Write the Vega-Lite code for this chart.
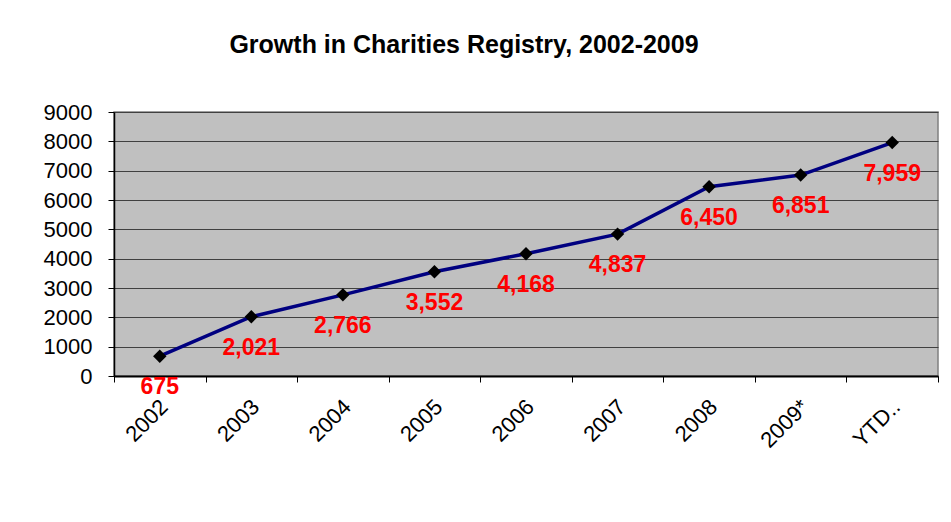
{
  "$schema": "https://vega.github.io/schema/vega-lite/v6.json",
  "autosize": "none",
  "width": 824,
  "height": 264,
  "padding": {"left": 114, "top": 112, "right": 13, "bottom": 146},
  "background": "#ffffff",
  "config": {
    "font": "Liberation Sans",
    "view": {"stroke": "#808080", "strokeWidth": 1.5, "fill": "#C0C0C0"}
  },
  "title": {
    "text": "Growth in Charities Registry, 2002-2009",
    "font": "Liberation Sans",
    "fontSize": 25,
    "fontWeight": "bold",
    "color": "#000000",
    "anchor": "middle",
    "frame": "group",
    "dx": -62,
    "offset": 43
  },
  "data": {
    "values": [
      {"year": "2002", "count": 675},
      {"year": "2003", "count": 2021},
      {"year": "2004", "count": 2766},
      {"year": "2005", "count": 3552},
      {"year": "2006", "count": 4168},
      {"year": "2007", "count": 4837},
      {"year": "2008", "count": 6450},
      {"year": "2009*", "count": 6851},
      {"year": "YTD..", "count": 7959}
    ]
  },
  "encoding": {
    "x": {
      "field": "year",
      "type": "nominal",
      "sort": null,
      "scale": {"paddingInner": 0, "paddingOuter": 0},
      "axis": {
        "title": null,
        "labelAngle": -45,
        "labelAlign": "right",
        "labelBaseline": "middle",
        "labelFontSize": 22,
        "labelColor": "#000000",
        "labelFont": "Liberation Sans",
        "labelPadding": 21,
        "labelOffset": 4,
        "tickBand": "extent",
        "tickSize": 6,
        "tickColor": "#000000",
        "domainColor": "#000000",
        "domainWidth": 2,
        "grid": false
      }
    },
    "y": {
      "field": "count",
      "type": "quantitative",
      "scale": {"domain": [0, 9000], "nice": false},
      "axis": {
        "title": null,
        "values": [0, 1000, 2000, 3000, 4000, 5000, 6000, 7000, 8000, 9000],
        "format": "d",
        "labelFontSize": 22,
        "labelColor": "#000000",
        "labelFont": "Liberation Sans",
        "labelPadding": 16,
        "tickSize": 6,
        "tickColor": "#000000",
        "domainColor": "#000000",
        "domainWidth": 1.5,
        "grid": true,
        "gridColor": "#404040",
        "gridWidth": 1
      }
    }
  },
  "layer": [
    {"mark": {"type": "line", "color": "#000080", "strokeWidth": 3.5}},
    {"mark": {"type": "point", "shape": "diamond", "filled": true, "color": "#000000", "size": 180, "opacity": 1}},
    {
      "mark": {"type": "text", "color": "#FF0000", "fontSize": 23, "fontWeight": "bold", "dy": 31, "font": "Liberation Sans"},
      "encoding": {"text": {"field": "count", "type": "quantitative", "format": ","}}
    }
  ]
}
